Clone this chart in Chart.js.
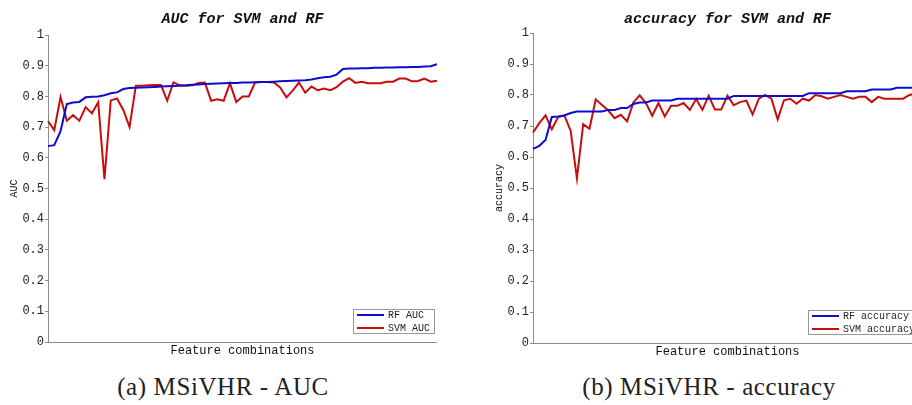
<!DOCTYPE html>
<html lang="en">
<head>
<meta charset="UTF-8">
<title>MSiVHR - AUC and accuracy</title>
<script src="https://cdn.jsdelivr.net/npm/chart.js"></script>
<style>
  html, body {
    margin: 0;
    padding: 0;
    width: 912px;
    height: 405px;
    overflow: hidden;
    background: #fff;
  }
  .panel { position: absolute; }
  #aucPanel { left: 0; top: 0; }
  #accPanel { left: 485px; top: -2px; }
  .caption {
    position: absolute;
    top: 373px;
    font-family: 'Liberation Serif', serif;
    font-size: 25px;
    letter-spacing: 0.6px;
    color: #222;
    white-space: nowrap;
    transform: translateX(-50%);
  }
</style>
</head>
<body>

<div class="panel" id="aucPanel"><canvas id="aucChart" width="437" height="360"></canvas></div>
<div class="panel" id="accPanel"><canvas id="accChart" width="437" height="363"></canvas></div>

<div class="caption" style="left:223px">(a) MSiVHR - AUC</div>
<div class="caption" style="left:709px">(b) MSiVHR - accuracy</div>

<script>
// 63 feature combinations, sorted by RF score
const combos = Array.from({ length: 63 }, (_, i) => String(i + 1));

const aucRF = [
  0.638, 0.641, 0.687, 0.775, 0.780, 0.782, 0.797, 0.799, 0.800, 0.804, 0.810, 0.813, 0.824, 0.827, 0.828,
  0.829, 0.830, 0.831, 0.832, 0.833, 0.834, 0.835, 0.836, 0.838, 0.839, 0.840, 0.841, 0.842, 0.843, 0.844,
  0.844, 0.845, 0.845, 0.846, 0.847, 0.847, 0.848, 0.849, 0.850, 0.851, 0.852, 0.853, 0.855, 0.859, 0.862,
  0.864, 0.871, 0.889, 0.891, 0.891, 0.892, 0.892, 0.893, 0.893, 0.894, 0.894, 0.895, 0.895, 0.896, 0.896,
  0.897, 0.898, 0.905
];
const aucSVM = [
  0.720, 0.690, 0.798, 0.721, 0.739, 0.721, 0.765, 0.745, 0.781, 0.530, 0.787, 0.793, 0.756, 0.700, 0.835,
  0.835, 0.836, 0.837, 0.837, 0.786, 0.846, 0.836, 0.835, 0.836, 0.844, 0.845, 0.786, 0.791, 0.786, 0.843,
  0.782, 0.800, 0.800, 0.845, 0.847, 0.847, 0.845, 0.829, 0.797, 0.819, 0.845, 0.812, 0.832, 0.820, 0.826,
  0.820, 0.830, 0.848, 0.859, 0.844, 0.848, 0.843, 0.843, 0.843, 0.848, 0.848, 0.858, 0.858, 0.849, 0.850,
  0.858, 0.848, 0.851
];

const accRF = [
  0.626, 0.636, 0.655, 0.729, 0.731, 0.734, 0.742, 0.747, 0.747, 0.747, 0.747, 0.747, 0.752, 0.752, 0.758,
  0.758, 0.771, 0.776, 0.776, 0.782, 0.782, 0.782, 0.782, 0.788, 0.788, 0.788, 0.788, 0.788, 0.788, 0.788,
  0.788, 0.788, 0.797, 0.797, 0.797, 0.797, 0.797, 0.797, 0.797, 0.797, 0.797, 0.797, 0.797, 0.797, 0.806,
  0.806, 0.806, 0.806, 0.806, 0.806, 0.812, 0.812, 0.812, 0.812, 0.818, 0.818, 0.818, 0.818, 0.823, 0.823,
  0.823, 0.823, 0.823
];
const accSVM = [
  0.679, 0.709, 0.734, 0.690, 0.729, 0.734, 0.685, 0.531, 0.706, 0.691, 0.786, 0.768, 0.750, 0.725, 0.736,
  0.715, 0.776, 0.799, 0.774, 0.733, 0.774, 0.731, 0.765, 0.765, 0.774, 0.752, 0.787, 0.752, 0.798, 0.753,
  0.753, 0.798, 0.767, 0.777, 0.782, 0.737, 0.788, 0.800, 0.788, 0.721, 0.783, 0.788, 0.772, 0.788, 0.782,
  0.800, 0.796, 0.788, 0.794, 0.800, 0.794, 0.788, 0.794, 0.794, 0.777, 0.794, 0.788, 0.788, 0.788, 0.788,
  0.800, 0.805, 0.800
];

const BLUE = 'rgb(12, 12, 205)';
const RED = 'rgb(200, 12, 12)';
const AXIS = '#8c8c8c';
const MONO = '"Liberation Mono", "DejaVu Sans Mono", monospace';

// legend box drawn inside the lower right corner of the plot
const boxLegend = {
  id: 'boxLegend',
  afterDatasetsDraw(chart) {
    const { ctx, chartArea } = chart;
    const sets = chart.data.datasets;
    ctx.save();
    ctx.font = '10px ' + MONO;
    const textW = Math.max(...sets.map(d => ctx.measureText(d.label).width));
    const w = Math.round(4 + 27 + 4 + textW + 4);
    const h = 24;
    const x = Math.round(chartArea.right - 3 - w);
    const y = Math.round(chartArea.bottom - 9 - h);
    ctx.fillStyle = '#fff';
    ctx.fillRect(x, y, w, h);
    ctx.strokeStyle = '#999';
    ctx.lineWidth = 1;
    ctx.strokeRect(x + 0.5, y + 0.5, w, h);
    sets.forEach((d, i) => {
      const ly = y + 6 + i * 13;
      ctx.strokeStyle = d.borderColor;
      ctx.lineWidth = 2;
      ctx.beginPath();
      ctx.moveTo(x + 4, ly);
      ctx.lineTo(x + 31, ly);
      ctx.stroke();
      ctx.fillStyle = '#222';
      ctx.textBaseline = 'middle';
      ctx.fillText(d.label, x + 35, ly + 0.5);
    });
    ctx.restore();
  }
};

function makeChart(id, titleText, yTitle, rf, svm, rfName, svmName, titlePad) {
  return new Chart(document.getElementById(id), {
    type: 'line',
    data: {
      labels: combos,
      datasets: [
        { label: rfName, data: rf, borderColor: BLUE, borderWidth: 2, pointRadius: 0, tension: 0 },
        { label: svmName, data: svm, borderColor: RED, borderWidth: 2, pointRadius: 0, tension: 0 }
      ]
    },
    options: {
      responsive: false,
      animation: false,
      layout: { padding: 0 },
      plugins: {
        legend: { display: false },
        tooltip: { enabled: false },
        title: {
          display: true,
          text: titleText,
          fullSize: false,
          color: '#111',
          font: { family: MONO, size: 15, weight: 'bold', style: 'italic' },
          padding: titlePad
        }
      },
      scales: {
        x: {
          offset: false,
          afterFit: s => { s.height = 18; },
          grid: { display: false },
          ticks: { display: false },
          border: { display: true, color: AXIS },
          title: {
            display: true,
            text: 'Feature combinations',
            color: '#111',
            font: { family: MONO, size: 12 },
            padding: { top: 2, bottom: 2 }
          }
        },
        y: {
          min: 0,
          max: 1,
          afterFit: s => { s.width = 48; },
          ticks: {
            stepSize: 0.1,
            padding: 1,
            color: '#222',
            font: { family: MONO, size: 12 },
            callback: v => (v === 0 || v === 1) ? String(v) : v.toFixed(1)
          },
          grid: { drawOnChartArea: false, tickLength: 3, color: AXIS },
          border: { display: true, color: AXIS },
          title: {
            display: true,
            text: yTitle,
            color: '#111',
            font: { family: MONO, size: 10 },
            padding: { top: 8, bottom: 0 }
          }
        }
      }
    },
    plugins: [boxLegend]
  });
}

makeChart('aucChart', 'AUC for SVM and RF', 'AUC', aucRF, aucSVM, 'RF AUC', 'SVM AUC',
  { top: 10, bottom: 7 });
makeChart('accChart', 'accuracy for SVM and RF', 'accuracy', accRF, accSVM, 'RF accuracy', 'SVM accuracy',
  { top: 12, bottom: 5 });
</script>

</body>
</html>
